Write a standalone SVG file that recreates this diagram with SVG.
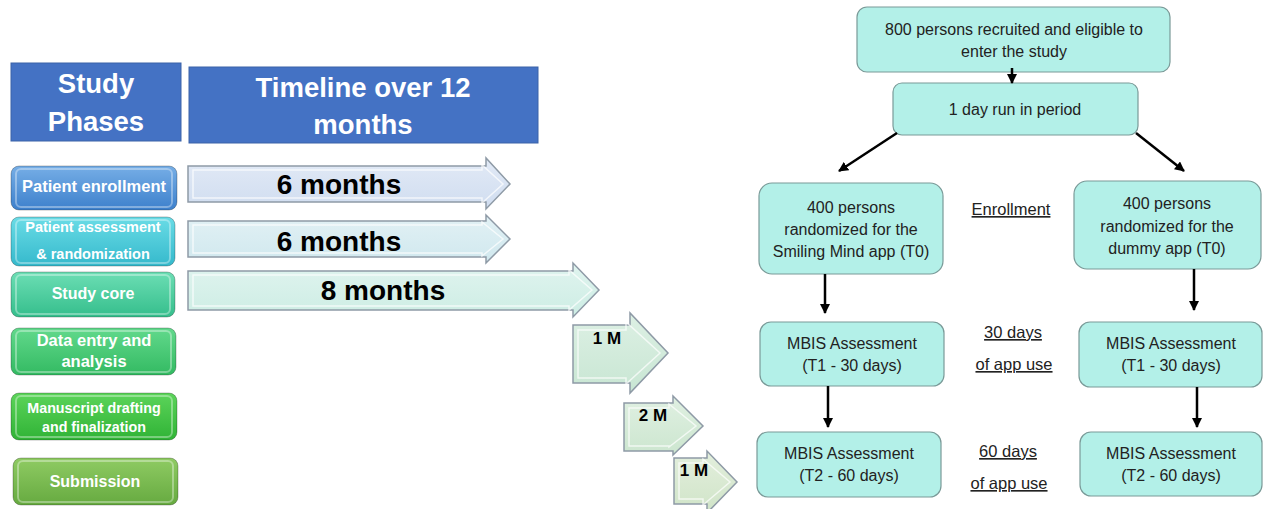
<svg xmlns="http://www.w3.org/2000/svg" width="1266" height="509" viewBox="0 0 1266 509">
<defs>
<linearGradient id="gBlue" x1="0" y1="0" x2="0" y2="1"><stop offset="0" stop-color="#76AEE6"/><stop offset="1" stop-color="#3D80CC"/></linearGradient>
<linearGradient id="gCyan" x1="0" y1="0" x2="0" y2="1"><stop offset="0" stop-color="#6ADCE6"/><stop offset="1" stop-color="#35B9CC"/></linearGradient>
<linearGradient id="gTeal" x1="0" y1="0" x2="0" y2="1"><stop offset="0" stop-color="#6CDEB4"/><stop offset="1" stop-color="#35BE8C"/></linearGradient>
<linearGradient id="gGreen1" x1="0" y1="0" x2="0" y2="1"><stop offset="0" stop-color="#62D98C"/><stop offset="1" stop-color="#33BA62"/></linearGradient>
<linearGradient id="gGreen2" x1="0" y1="0" x2="0" y2="1"><stop offset="0" stop-color="#5CD45A"/><stop offset="1" stop-color="#30B336"/></linearGradient>
<linearGradient id="gOlive" x1="0" y1="0" x2="0" y2="1"><stop offset="0" stop-color="#8FCB63"/><stop offset="1" stop-color="#66AA40"/></linearGradient>
<linearGradient id="aBlue" x1="0" y1="0" x2="0" y2="1"><stop offset="0" stop-color="#E2EAF6"/><stop offset="1" stop-color="#D0DDF0"/></linearGradient>
<linearGradient id="aCyan" x1="0" y1="0" x2="0" y2="1"><stop offset="0" stop-color="#E2F1F5"/><stop offset="1" stop-color="#D0E8EE"/></linearGradient>
<linearGradient id="aTeal" x1="0" y1="0" x2="0" y2="1"><stop offset="0" stop-color="#E0F4EF"/><stop offset="1" stop-color="#CDEDE4"/></linearGradient>
<linearGradient id="aG1" x1="0" y1="0" x2="0" y2="1"><stop offset="0" stop-color="#DDF0E4"/><stop offset="1" stop-color="#C8E6D3"/></linearGradient>
<linearGradient id="aG2" x1="0" y1="0" x2="0" y2="1"><stop offset="0" stop-color="#E0F0E2"/><stop offset="1" stop-color="#CCE6CF"/></linearGradient>
<linearGradient id="aG3" x1="0" y1="0" x2="0" y2="1"><stop offset="0" stop-color="#E3EFDD"/><stop offset="1" stop-color="#D0E4C8"/></linearGradient>
<marker id="ah" viewBox="0 0 10 10" refX="9" refY="5" markerWidth="4" markerHeight="4" orient="auto" markerUnits="strokeWidth">
<path d="M0,0 L10,5 L0,10 Z" fill="#000"/>
</marker>
</defs>
<style>
.hdr{fill:#4472C4;stroke:#3A62A8;stroke-width:1}
.hdrt{font-family:"Liberation Sans",Arial,sans-serif;font-weight:bold;font-size:27.5px;fill:#fff;text-anchor:middle}
.btn{stroke:rgba(0,0,0,0.25);stroke-width:1}
.btnin{fill:none;stroke:rgba(255,255,255,0.35);stroke-width:2}
.btnt{font-family:"Liberation Sans",Arial,sans-serif;font-weight:bold;fill:#fff;text-anchor:middle}
.arr{stroke:#8E9AA6;stroke-width:1.5}
.arrin{fill:none;stroke:rgba(255,255,255,0.7);stroke-width:1.5}
.arrt{font-family:"Liberation Sans",Arial,sans-serif;font-weight:bold;fill:#000;text-anchor:middle}
.box{fill:#B3F0E8;stroke:#7A9A98;stroke-width:1.2}
.bt{font-family:"Liberation Sans",Arial,sans-serif;font-size:16px;fill:#222;text-anchor:middle}
.ul{font-family:"Liberation Sans",Arial,sans-serif;font-size:16.5px;fill:#222;text-anchor:middle;text-decoration:underline}
.con{stroke:#000;stroke-width:2.5;fill:none;marker-end:url(#ah)}
</style>
<rect width="1266" height="509" fill="#fff"/>

<g id="hdr-phases">
<rect class="hdr" x="11" y="63" width="170" height="78"/>
<text class="hdrt" x="96" y="93">Study</text>
<text class="hdrt" x="96" y="131">Phases</text>
</g>
<g id="hdr-timeline">
<rect class="hdr" x="189" y="67" width="349" height="76"/>
<text class="hdrt" x="363" y="97">Timeline over 12</text>
<text class="hdrt" x="363" y="134">months</text>
</g>

<g id="ph-enroll">
<rect class="btn" x="11" y="166" width="166" height="44" rx="8" fill="url(#gBlue)"/>
<rect class="btnin" x="16" y="169" width="156" height="38" rx="5"/>
<text class="btnt" x="94" y="192" font-size="16.5">Patient enrollment</text>
</g>
<g id="ph-assess">
<rect class="btn" x="11" y="217" width="164" height="49" rx="8" fill="url(#gCyan)"/>
<rect class="btnin" x="16" y="220" width="154" height="43" rx="5"/>
<text class="btnt" x="93" y="232" font-size="14.5">Patient assessment</text>
<text class="btnt" x="93" y="259" font-size="14.5">&amp; randomization</text>
</g>
<g id="ph-core">
<rect class="btn" x="11" y="272" width="164" height="45" rx="8" fill="url(#gTeal)"/>
<rect class="btnin" x="16" y="275" width="154" height="39" rx="5"/>
<text class="btnt" x="93" y="299" font-size="16">Study core</text>
</g>
<g id="ph-data">
<rect class="btn" x="11" y="328" width="165" height="47" rx="8" fill="url(#gGreen1)"/>
<rect class="btnin" x="16" y="331" width="155" height="41" rx="5"/>
<text class="btnt" x="94" y="346" font-size="16.5">Data entry and</text>
<text class="btnt" x="94" y="367" font-size="16.5">analysis</text>
</g>
<g id="ph-manu">
<rect class="btn" x="11" y="393" width="166" height="47" rx="8" fill="url(#gGreen2)"/>
<rect class="btnin" x="16" y="396" width="156" height="41" rx="5"/>
<text class="btnt" x="94" y="413" font-size="14.3">Manuscript drafting</text>
<text class="btnt" x="94" y="432" font-size="14.3">and finalization</text>
</g>
<g id="ph-submit">
<rect class="btn" x="13" y="458" width="165" height="47" rx="8" fill="url(#gOlive)"/>
<rect class="btnin" x="18" y="461" width="155" height="41" rx="5"/>
<text class="btnt" x="95" y="487" font-size="16">Submission</text>
</g>

<g id="tl-1">
<path class="arr" d="M188,166 L486,166 L486,158 L510,184 L486,209 L486,202 L188,202 Z" fill="url(#aBlue)"/>
<path class="arrin" d="M193,170 L482,170 L482,165 L503,184 L482,203 L482,198 L193,198 Z"/>
<text class="arrt" x="339" y="194" font-size="28">6 months</text>
</g>
<g id="tl-2">
<path class="arr" d="M188,221 L486,221 L486,215 L510,239 L486,263 L486,257 L188,257 Z" fill="url(#aCyan)"/>
<path class="arrin" d="M193,225 L482,225 L482,222 L503,239 L482,256 L482,253 L193,253 Z"/>
<text class="arrt" x="339" y="251" font-size="28">6 months</text>
</g>
<g id="tl-3">
<path class="arr" d="M188,271 L573,271 L573,263 L599,290 L573,317 L573,310 L188,310 Z" fill="url(#aTeal)"/>
<path class="arrin" d="M193,275 L569,275 L569,270 L592,290 L569,310 L569,306 L193,306 Z"/>
<text class="arrt" x="383" y="300" font-size="28">8 months</text>
</g>
<g id="tl-4">
<path class="arr" d="M573,325 L630,325 L630,313 L668,353 L630,393 L630,383 L573,383 Z" fill="url(#aG1)"/>
<path class="arrin" d="M578,330 L626,330 L626,322 L660,353 L626,384 L626,378 L578,378 Z"/>
<text class="arrt" x="607" y="344" font-size="17">1 M</text>
</g>
<g id="tl-5">
<path class="arr" d="M624,403 L673,403 L673,396 L703,426 L673,455 L673,451 L624,451 Z" fill="url(#aG2)"/>
<path class="arrin" d="M629,408 L669,408 L669,404 L696,426 L669,447 L669,446 L629,446 Z"/>
<text class="arrt" x="653" y="421" font-size="17">2 M</text>
</g>
<g id="tl-6">
<path class="arr" d="M674,458 L707,458 L707,451 L737,482 L707,513 L707,504 L674,504 Z" fill="url(#aG3)"/>
<path class="arrin" d="M679,463 L703,463 L703,459 L730,482 L703,505 L703,499 L679,499 Z"/>
<text class="arrt" x="694" y="476" font-size="17">1 M</text>
</g>

<g id="n-recruit">
<rect class="box" x="857" y="7" width="313" height="65" rx="10"/>
<text class="bt" x="1014" y="35" font-size="16.5">800 persons recruited and eligible to</text>
<text class="bt" x="1014" y="57" font-size="16.5">enter the study</text>
</g>
<g id="n-runin">
<rect class="box" x="893" y="83" width="245" height="52" rx="9"/>
<text class="bt" x="1015" y="115" font-size="16.5">1 day run in period</text>
</g>
<g id="n-smiling">
<rect class="box" x="759" y="183" width="184" height="91" rx="13"/>
<text class="bt" x="851" y="213" font-size="16.5">400 persons</text>
<text class="bt" x="851" y="235" font-size="16.5">randomized for the</text>
<text class="bt" x="851" y="257" font-size="16.5">Smiling Mind app (T0)</text>
</g>
<g id="n-dummy">
<rect class="box" x="1074" y="181" width="187" height="88" rx="13"/>
<text class="bt" x="1167" y="209" font-size="16.5">400 persons</text>
<text class="bt" x="1167" y="232" font-size="16.5">randomized for the</text>
<text class="bt" x="1167" y="254" font-size="16.5">dummy app (T0)</text>
</g>
<g id="n-t1-left">
<rect class="box" x="760" y="322" width="184" height="64" rx="11"/>
<text class="bt" x="852" y="349">MBIS Assessment</text>
<text class="bt" x="852" y="371">(T1 - 30 days)</text>
</g>
<g id="n-t1-right">
<rect class="box" x="1079" y="322" width="183" height="65" rx="11"/>
<text class="bt" x="1171" y="349">MBIS Assessment</text>
<text class="bt" x="1171" y="371">(T1 - 30 days)</text>
</g>
<g id="n-t2-left">
<rect class="box" x="757" y="432" width="184" height="65" rx="11"/>
<text class="bt" x="849" y="459">MBIS Assessment</text>
<text class="bt" x="849" y="481">(T2 - 60 days)</text>
</g>
<g id="n-t2-right">
<rect class="box" x="1080" y="432" width="182" height="64" rx="11"/>
<text class="bt" x="1171" y="459">MBIS Assessment</text>
<text class="bt" x="1171" y="481">(T2 - 60 days)</text>
</g>

<g id="labels">
<text class="ul" x="1011" y="215" font-size="17">Enrollment</text>
<text class="ul" x="1013" y="338">30 days</text>
<text class="ul" x="1014" y="370">of app use</text>
<text class="ul" x="1008" y="457">60 days</text>
<text class="ul" x="1009" y="489">of app use</text>
</g>

<g id="connectors">
<line class="con" x1="1012" y1="68" x2="1012" y2="83"/>
<line class="con" x1="897" y1="133" x2="839" y2="171"/>
<line class="con" x1="1136" y1="133" x2="1184" y2="171"/>
<line class="con" x1="825" y1="274" x2="825" y2="313"/>
<line class="con" x1="1194" y1="269" x2="1194" y2="310"/>
<line class="con" x1="828" y1="386" x2="828" y2="427"/>
<line class="con" x1="1197" y1="387" x2="1197" y2="427"/>
</g>
</svg>
